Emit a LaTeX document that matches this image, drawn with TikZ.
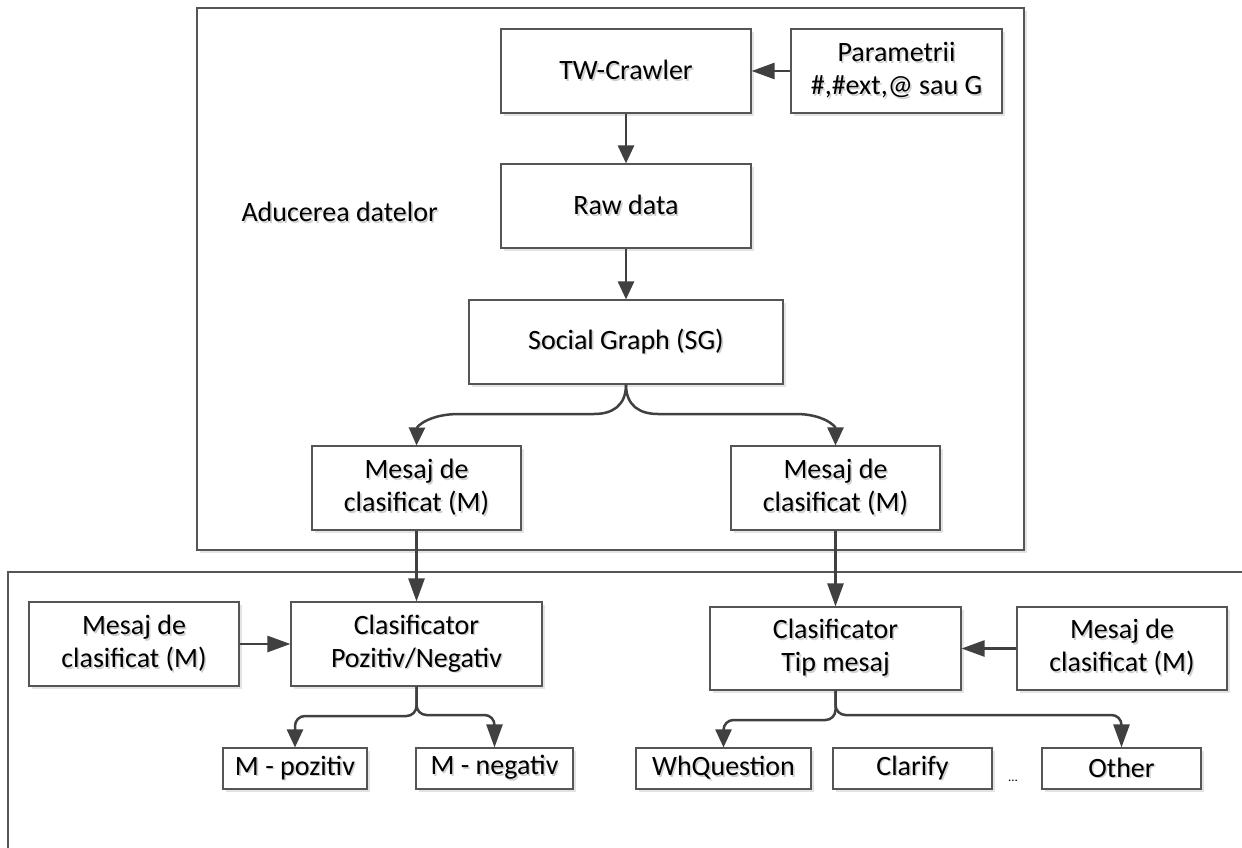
\documentclass[tikz,border=0pt]{standalone}
\usepackage{fontspec}
\setmainfont{Carlito}
\usetikzlibrary{arrows.meta,shadows}
\definecolor{edgec}{HTML}{404040}
\definecolor{boxc}{HTML}{555555}
\definecolor{shade}{HTML}{CFCFCF}
% text with a soft grey shadow offset down and to the right
\newcommand\shd[1]{\makebox[0pt][l]{\kern1.6pt\raisebox{-1.6pt}{\textcolor{shade}{#1}}}#1}

\begin{document}
\begin{tikzpicture}[x=1pt,y=-1pt,
  every node/.style={font=\fontsize{28}{33}\selectfont},
  softshadow/.style={drop shadow={shadow xshift=3pt, shadow yshift=-3pt, fill=black!11, opacity=1}},
  box/.style={draw=boxc, line width=1.1pt, fill=white, align=center, inner sep=0pt, softshadow},
  panel/.style={draw=boxc, line width=1.1pt, fill=white, softshadow},
  link/.style={draw=edgec, line width=2.5pt, -{Triangle[length=18pt,width=16pt]}},
  longlink/.style={draw=edgec, line width=2.5pt, -{Triangle[length=23pt,width=16pt]}},
  ]
\useasboundingbox (0,0) rectangle (1242,848);
\fill[white] (0,0) rectangle (1242,848);

% two framed areas: data acquisition (top) and classification (bottom, open to the page edge)
\path[panel] (197,8) rectangle (1024,550);
\begin{scope}
  \clip (0,0) rectangle (1242,848);
  \path[panel] (8,572) rectangle (1270,880);
\end{scope}

\node[anchor=west] (title) at (238,213) {\shd{Aducerea datelor}};

% data acquisition
\node[box, minimum width=250pt, minimum height=84pt] (tw)  at (626,71)  {\shd{TW-Crawler}};
\node[box, minimum width=211pt, minimum height=84pt] (par) at (896.5,71) {\shd{Parametrii}\\\shd{\#,\#ext,@ sau G}};
\node[box, minimum width=250pt, minimum height=84pt] (raw) at (626,206) {\shd{Raw data}};
\node[box, minimum width=314pt, minimum height=84pt] (sg)  at (626,342) {\shd{Social Graph (SG)}};
\node[box, minimum width=209pt, minimum height=84pt] (m1)  at (416.5,488) {\shd{Mesaj de}\\\shd{clasificat (M)}};
\node[box, minimum width=209pt, minimum height=84pt] (m2)  at (835.5,488) {\shd{Mesaj de}\\\shd{clasificat (M)}};

% classification
\node[box, minimum width=210pt, minimum height=84pt] (msgl) at (134,644)   {\shd{Mesaj de}\\\shd{clasificat (M)}};
\node[box, minimum width=251pt, minimum height=84pt] (pn)   at (416.5,644) {\shd{Clasificator}\\\shd{Pozitiv/Negativ}};
\node[box, minimum width=251pt, minimum height=83pt] (tip)  at (835.5,648.5) {\shd{Clasificator}\\\shd{Tip mesaj}};
\node[box, minimum width=210pt, minimum height=83pt] (msgr) at (1122,648.5) {\shd{Mesaj de}\\\shd{clasificat (M)}};

\node[box, minimum width=144pt, minimum height=41pt] (poz) at (295,768.5)    {\shd{M - pozitiv}};
\node[box, minimum width=157pt, minimum height=41pt] (neg) at (494.5,768.5)  {\shd{M - negativ}};
\node[box, minimum width=175pt, minimum height=41pt] (wh)  at (723.5,768.5)  {\shd{WhQuestion}};
\node[box, minimum width=159pt, minimum height=41pt] (cla) at (912.5,768.5)  {\shd{Clarify}};
\node[box, minimum width=159pt, minimum height=41pt] (oth) at (1121.5,768.5) {\shd{Other}};
\node[font=\fontsize{13}{15}\selectfont] (dots) at (1013,781) {...};

% connectors
\draw[longlink] (par.west) -- (tw.east);
\draw[link] (tw.south) -- (raw.north);
\draw[link] (raw.south) -- (sg.north);
\draw[link] (sg.south) .. controls (626,406) and (612,414) .. (594,414)
  -- (459,414) .. controls (430,414) and (417,426) .. (m1.north);
\draw[link] (sg.south) .. controls (626,406) and (640,414) .. (658,414)
  -- (796,414) .. controls (823,414) and (835.5,426) .. (m2.north);

\draw[longlink] (m1.south) -- (pn.north);
\draw[longlink] (m2.south) -- (tip.north);
\draw[longlink] (msgl.east) -- (pn.west);
\draw[longlink] (msgr.west) -- (tip.east);

\draw[link, rounded corners=10pt] (pn.south) -- (416.5,716) -- (295,716) -- (poz.north);
\draw[longlink, rounded corners=10pt] (pn.south) -- (416.5,715) -- (494.5,715) -- (neg.north);
\draw[link, rounded corners=10pt] (tip.south) -- (835.5,720) -- (723.5,720) -- (wh.north);
\draw[longlink, rounded corners=10pt] (tip.south) -- (835.5,715) -- (1121.5,715) -- (oth.north);
\end{tikzpicture}
\end{document}
